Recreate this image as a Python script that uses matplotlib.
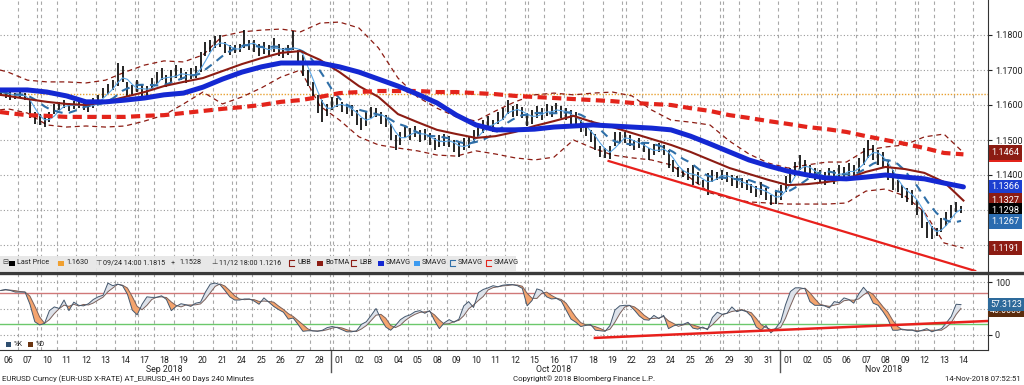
import numpy as np
import pandas as pd
import matplotlib
matplotlib.use("Agg")
import matplotlib.pyplot as plt
from matplotlib.patches import Rectangle
from matplotlib.lines import Line2D

plt.rcParams['font.family'] = ['Roboto', 'DejaVu Sans']

W, H = 1024, 385

# ---- data ----
day_labels = ["06", "07", "10", "11", "12", "13", "14", "17", "18", "19", "20", "21", "24", "25", "26", "27", "28",
              "01", "02", "03", "04", "05", "08", "09", "10", "11", "12", "15", "16", "17", "18", "19",
              "22", "23", "24", "25", "26", "29", "30", "31",
              "01", "02", "05", "06", "07", "08", "09", "12", "13", "14"]
fridays = [1, 6, 11, 16, 21, 26, 31, 36, 41, 46]   # day index followed by a weekend
month_names = ["Sep 2018", "Oct 2018", "Nov 2018"]
month_first_day = [0, 17, 40]

# EUR/USD 4H bars, high / low (4 per day, last day 2)
bar_high = [
    1.1649, 1.1643, 1.1637, 1.1634,  1.1643, 1.1634, 1.1614, 1.1580,  1.1574, 1.1566, 1.1580, 1.1603,
    1.1609, 1.1614, 1.1606, 1.1611,  1.1614, 1.1609, 1.1603, 1.1620,  1.1629, 1.1649, 1.1660, 1.1671,
    1.1720, 1.1711, 1.1666, 1.1657,  1.1671, 1.1660, 1.1654, 1.1677,  1.1694, 1.1706, 1.1686, 1.1700,
    1.1714, 1.1706, 1.1694, 1.1706,  1.1711, 1.1751, 1.1780, 1.1786,  1.1797, 1.1800, 1.1780, 1.1771,
    1.1771, 1.1774, 1.1815, 1.1786,  1.1786, 1.1774, 1.1780, 1.1771,  1.1791, 1.1774, 1.1763, 1.1771,
    1.1811, 1.1757, 1.1743, 1.1700,  1.1666, 1.1629, 1.1614, 1.1603,  1.1623, 1.1620, 1.1609, 1.1603,
    1.1600, 1.1586, 1.1563, 1.1580,  1.1594, 1.1591, 1.1580, 1.1571,  1.1546, 1.1514, 1.1523, 1.1540,
    1.1534, 1.1540, 1.1529, 1.1531,  1.1520, 1.1506, 1.1514, 1.1517,  1.1511, 1.1500, 1.1494, 1.1506,
    1.1511, 1.1529, 1.1543, 1.1557,  1.1569, 1.1557, 1.1580, 1.1591,  1.1614, 1.1597, 1.1603, 1.1594,
    1.1577, 1.1586, 1.1597, 1.1591,  1.1603, 1.1597, 1.1606, 1.1597,  1.1591, 1.1586, 1.1580, 1.1557,
    1.1543, 1.1529, 1.1517, 1.1483,  1.1477, 1.1483, 1.1523, 1.1523,  1.1523, 1.1514, 1.1500, 1.1506,
    1.1491, 1.1477, 1.1489, 1.1491,  1.1486, 1.1471, 1.1443, 1.1423,  1.1414, 1.1420, 1.1429, 1.1409,
    1.1386, 1.1406, 1.1414, 1.1409,  1.1414, 1.1409, 1.1400, 1.1397,  1.1391, 1.1386, 1.1374, 1.1369,
    1.1380, 1.1363, 1.1343, 1.1357,  1.1371, 1.1397, 1.1420, 1.1437,  1.1457, 1.1443, 1.1429, 1.1420,
    1.1414, 1.1409, 1.1420, 1.1414,  1.1429, 1.1423, 1.1434, 1.1429,  1.1449, 1.1477, 1.1500, 1.1486,
    1.1471, 1.1466, 1.1443, 1.1414,  1.1386, 1.1371, 1.1363, 1.1357,  1.1329, 1.1300, 1.1266, 1.1254,
    1.1249, 1.1277, 1.1294, 1.1314,  1.1323, 1.1311]
bar_low = [
    1.1626, 1.1620, 1.1614, 1.1617,  1.1620, 1.1614, 1.1563, 1.1546,  1.1543, 1.1537, 1.1551, 1.1574,
    1.1586, 1.1591, 1.1583, 1.1589,  1.1591, 1.1586, 1.1580, 1.1591,  1.1603, 1.1620, 1.1631, 1.1643,
    1.1654, 1.1666, 1.1623, 1.1629,  1.1637, 1.1626, 1.1623, 1.1643,  1.1660, 1.1671, 1.1651, 1.1666,
    1.1677, 1.1671, 1.1663, 1.1674,  1.1677, 1.1694, 1.1740, 1.1751,  1.1763, 1.1766, 1.1749, 1.1743,
    1.1749, 1.1751, 1.1763, 1.1757,  1.1751, 1.1740, 1.1746, 1.1737,  1.1751, 1.1740, 1.1734, 1.1743,
    1.1757, 1.1723, 1.1683, 1.1654,  1.1614, 1.1577, 1.1551, 1.1569,  1.1586, 1.1594, 1.1580, 1.1574,
    1.1569, 1.1543, 1.1529, 1.1540,  1.1563, 1.1566, 1.1546, 1.1537,  1.1500, 1.1471, 1.1486, 1.1506,
    1.1500, 1.1509, 1.1494, 1.1500,  1.1486, 1.1471, 1.1480, 1.1483,  1.1480, 1.1466, 1.1451, 1.1471,
    1.1477, 1.1494, 1.1506, 1.1520,  1.1534, 1.1523, 1.1546, 1.1557,  1.1574, 1.1566, 1.1569, 1.1563,
    1.1540, 1.1546, 1.1563, 1.1557,  1.1569, 1.1566, 1.1574, 1.1563,  1.1557, 1.1546, 1.1537, 1.1523,
    1.1511, 1.1494, 1.1471, 1.1451,  1.1449, 1.1446, 1.1483, 1.1491,  1.1491, 1.1483, 1.1471, 1.1477,
    1.1466, 1.1443, 1.1457, 1.1466,  1.1457, 1.1420, 1.1409, 1.1394,  1.1394, 1.1386, 1.1371, 1.1374,
    1.1366, 1.1343, 1.1380, 1.1386,  1.1386, 1.1380, 1.1369, 1.1363,  1.1363, 1.1357, 1.1349, 1.1337,
    1.1343, 1.1329, 1.1314, 1.1317,  1.1329, 1.1351, 1.1377, 1.1397,  1.1414, 1.1400, 1.1391, 1.1386,
    1.1380, 1.1371, 1.1386, 1.1374,  1.1391, 1.1386, 1.1397, 1.1391,  1.1409, 1.1429, 1.1449, 1.1443,
    1.1429, 1.1420, 1.1386, 1.1357,  1.1351, 1.1334, 1.1323, 1.1314,  1.1286, 1.1249, 1.1220, 1.1216,
    1.1226, 1.1237, 1.1254, 1.1277,  1.1294, 1.1291]

# studies read once per day (first value = left edge of the chart)
sma_blue = [1.1643,
            1.1643, 1.1643, 1.1637, 1.1626, 1.1609, 1.1609, 1.1614, 1.1620, 1.1629, 1.1634,
            1.1651, 1.1674, 1.1694, 1.1709, 1.1720, 1.1720, 1.1720, 1.1709, 1.1694, 1.1674,
            1.1654, 1.1631, 1.1606, 1.1571, 1.1543, 1.1529, 1.1529, 1.1531, 1.1537, 1.1540,
            1.1543, 1.1540, 1.1537, 1.1534, 1.1529, 1.1511, 1.1489, 1.1466, 1.1443, 1.1426,
            1.1411, 1.1400, 1.1391, 1.1389, 1.1394, 1.1400, 1.1394, 1.1389, 1.1377, 1.1366]
sma_red = [1.1580,
           1.1577, 1.1571, 1.1569, 1.1566, 1.1566, 1.1566, 1.1566, 1.1569, 1.1571, 1.1577,
           1.1583, 1.1589, 1.1594, 1.1600, 1.1609, 1.1614, 1.1623, 1.1634, 1.1637, 1.1640,
           1.1640, 1.1640, 1.1637, 1.1637, 1.1634, 1.1631, 1.1626, 1.1623, 1.1620, 1.1617,
           1.1614, 1.1611, 1.1606, 1.1603, 1.1600, 1.1591, 1.1583, 1.1571, 1.1563, 1.1554,
           1.1546, 1.1537, 1.1531, 1.1523, 1.1511, 1.1500, 1.1489, 1.1477, 1.1463, 1.1459]
bb_mid = [1.1629,
          1.1626, 1.1617, 1.1609, 1.1603, 1.1600, 1.1609, 1.1623, 1.1637, 1.1654, 1.1666,
          1.1677, 1.1697, 1.1717, 1.1734, 1.1749, 1.1754, 1.1729, 1.1694, 1.1654, 1.1623,
          1.1574, 1.1551, 1.1529, 1.1517, 1.1506, 1.1511, 1.1523, 1.1540, 1.1554, 1.1569,
          1.1551, 1.1537, 1.1520, 1.1503, 1.1486, 1.1466, 1.1443, 1.1420, 1.1403, 1.1386,
          1.1371, 1.1374, 1.1380, 1.1389, 1.1409, 1.1423, 1.1417, 1.1406, 1.1380, 1.1327]
bb_up = [1.1700,
         1.1694, 1.1671, 1.1666, 1.1666, 1.1663, 1.1671, 1.1694, 1.1714, 1.1726, 1.1723,
         1.1743, 1.1797, 1.1809, 1.1814, 1.1817, 1.1809, 1.1834, 1.1837, 1.1820, 1.1763,
         1.1677, 1.1623, 1.1591, 1.1566, 1.1554, 1.1583, 1.1609, 1.1629, 1.1634, 1.1629,
         1.1634, 1.1637, 1.1626, 1.1586, 1.1557, 1.1551, 1.1543, 1.1497, 1.1460, 1.1434,
         1.1420, 1.1429, 1.1437, 1.1437, 1.1471, 1.1480, 1.1486, 1.1509, 1.1517, 1.1464]
bb_low = [1.1586,
          1.1589, 1.1577, 1.1543, 1.1537, 1.1540, 1.1537, 1.1540, 1.1554, 1.1571, 1.1603,
          1.1637, 1.1603, 1.1623, 1.1649, 1.1680, 1.1700, 1.1597, 1.1557, 1.1509, 1.1486,
          1.1477, 1.1469, 1.1457, 1.1454, 1.1469, 1.1460, 1.1449, 1.1443, 1.1451, 1.1500,
          1.1477, 1.1457, 1.1449, 1.1443, 1.1429, 1.1391, 1.1349, 1.1334, 1.1323, 1.1320,
          1.1317, 1.1317, 1.1317, 1.1320, 1.1354, 1.1360, 1.1340, 1.1294, 1.1206, 1.1191]

# stochastic %K, one value per bar
stoch_k = [84, 86, 84, 81, 81, 81, 58, 25, 19, 22, 46, 53, 50, 66, 46, 62, 56, 55, 59, 67,
           72, 75, 98, 93, 96, 93, 77, 47, 38, 58, 72, 71, 71, 74, 67, 46, 54, 59, 57, 54,
           60, 62, 81, 96, 98, 95, 84, 72, 66, 66, 68, 68, 64, 58, 70, 62, 54, 48, 43, 30,
           32, 20, 7, 8, 8, 7, 9, 14, 16, 14, 10, 6, 6, 8, 20, 25, 37, 50, 30, 15,
           9, 18, 29, 35, 38, 44, 46, 41, 46, 27, 12, 23, 29, 24, 30, 55, 63, 52, 80, 86,
           89, 93, 91, 94, 95, 95, 93, 88, 55, 65, 87, 84, 72, 68, 69, 64, 47, 30, 24, 16,
           18, 20, 9, 8, 7, 18, 47, 55, 56, 56, 47, 36, 29, 28, 37, 31, 37, 12, 17, 20,
           20, 24, 13, 11, 15, 10, 33, 43, 39, 41, 53, 44, 47, 44, 35, 15, 9, 18, 4, 13,
           25, 57, 82, 89, 89, 87, 63, 56, 56, 55, 51, 63, 61, 70, 67, 60, 77, 90, 79, 60,
           56, 44, 30, 9, 9, 11, 9, 9, 6, 9, 12, 6, 9, 12, 23, 35, 58, 57.3]

# hand drawn trend lines (day index, value)
trend_price_x = [30.8, 49.6]
trend_price_y = [1.1440, 1.1126]
trend_stoch_x = [30.1, 50.3]
trend_stoch_y = [-5.5, 26.5]
level_line = 1.1630

price_tags = [1.1459, 1.1464, 1.1366, 1.1327, 1.1298, 1.1267, 1.1191]
price_tag_colors = ["#e3241b", "#8c1c13", "#1d3fd0", "#8c1c13", "#000000", "#2b6cb0", "#8c1c13"]
stoch_tags = [46.0605, 57.3123]
stoch_tag_colors = ["#5b2c0e", "#2d6a9b"]


def fxy(x, y):
    # pixel position -> figure fraction
    return x / W, 1 - y / H


# ---- derived series ----
n_bars = len(bar_high)
bar_x = (np.arange(n_bars) - 1.5) / 4.0
line_x = np.r_[-0.41, np.arange(len(day_labels))]
mid = (pd.Series(bar_high) + pd.Series(bar_low)) / 2
sma_fast = mid.rolling(3, min_periods=1).mean()
sma_dash = mid.rolling(8, min_periods=1).mean()
k = np.array(stoch_k, dtype=float)
d = pd.Series(k).rolling(3, min_periods=1).mean().values

fig = plt.figure(figsize=(W / 100, H / 100), dpi=100)
ax = fig.add_axes([0, 1 - 271 / H, 988 / W, 271 / H])
ax2 = fig.add_axes([0, 1 - 350 / H, 988 / W, 76 / H])

x_lo, x_hi = -0.41, 50.26
for a in (ax, ax2):
    a.set_xlim(x_lo, x_hi)
    a.set_facecolor("white")
    for i in range(-1, len(day_labels)):
        a.axvline(i + 0.5, color="#a8a8a8", lw=0.8, ls=(0, (3, 3)), zorder=0)
    for i in fridays:
        a.axvline(i + 0.68, color="#a8a8a8", lw=0.8, ls=(0, (3, 3)), zorder=0)

# ---- price panel ----
ax.set_ylim(1.19 - 271 / 3500, 1.19)
yt = [1.12, 1.13, 1.14, 1.15, 1.16, 1.17, 1.18]
for v in yt:
    ax.axhline(v, color="#9a9a9a", lw=0.8, ls=(0, (1, 2)), zorder=0)
ax.axhline(level_line, color="#e8a030", lw=1.0, ls=(0, (1, 1.2)), zorder=1)

ax.plot(line_x, bb_up, color="#8c1c13", lw=0.9, ls=(0, (4, 3)), zorder=2)
ax.plot(line_x, bb_low, color="#8c1c13", lw=0.9, ls=(0, (4, 3)), zorder=2)
ax.vlines(bar_x, bar_low, bar_high, color="black", lw=1.2, zorder=3)
ax.plot(bar_x, sma_fast, color="#5aa6e6", lw=0.8, zorder=4)
ax.plot(bar_x, sma_dash, color="#2f6fa8", lw=1.5, ls=(0, (4, 3)), zorder=4)
ax.plot(line_x, bb_mid, color="#8c1c13", lw=1.5, zorder=4)
ax.plot(line_x, sma_red, color="#e3241b", lw=3.0, ls=(0, (2.2, 1.3)), zorder=5)
ax.plot(line_x, sma_blue, color="#1428d2", lw=3.6, zorder=5, solid_capstyle="round")
ax.plot(trend_price_x, trend_price_y, color="#e8201c", lw=1.6, zorder=6)

# the 1.1300 / 1.1200 labels sit behind the value tags, as in the original
ax.yaxis.tick_right()
ax.set_yticks(yt)
ax.set_yticklabels(["", ""] + [f"{v:.4f}" for v in yt[2:]])
ax.tick_params(axis="y", labelsize=6.5, length=3, width=0.8, pad=2, colors="#222222")
ax.set_xticks([])
for s in ("top", "left", "bottom"):
    ax.spines[s].set_visible(False)
ax.spines["right"].set_color("#333333")
ax.spines["right"].set_linewidth(0.8)

ax.text(528, 50, "EUR / USD 4H", transform=None, color="#e8141c", fontsize=14.5,
        family=["Liberation Sans", "DejaVu Sans"], ha="center", va="center")

tf = ax.get_yaxis_transform()
for v, c in zip(price_tags, price_tag_colors):
    ax.text(1.0035, v, f"{v:.4f}", transform=tf, color="white", fontsize=6.6,
            ha="left", va="center", clip_on=False, zorder=10,
            bbox=dict(boxstyle="square,pad=0.3", fc=c, ec="none"))

# ---- stochastic panel ----
ax2.set_ylim((335 - 350) / 0.53, (335 - 274) / 0.53)
for v in (0, 50, 100):
    ax2.axhline(v, color="#9a9a9a", lw=0.8, ls=(0, (1, 2)), zorder=0)
ax2.axhline(80, color="#d07878", lw=1.0, zorder=1)
ax2.axhline(20, color="#6cc86c", lw=1.0, zorder=1)
ax2.fill_between(bar_x, k, d, where=k >= d, interpolate=True, color="#dde2ea", lw=0, zorder=2)
ax2.fill_between(bar_x, k, d, where=k < d, interpolate=True, color="#f4a46e", lw=0, zorder=2)
ax2.plot(bar_x, d, color="#7a605a", lw=0.7, zorder=3)
ax2.plot(bar_x, k, color="#44586e", lw=0.7, zorder=3)
ax2.plot(trend_stoch_x, trend_stoch_y, color="#e8201c", lw=1.8, zorder=4)

ax2.yaxis.tick_right()
ax2.set_yticks([0, 50, 100])
ax2.set_yticklabels(["0", "", "100"])
ax2.tick_params(axis="y", labelsize=6.5, length=3, width=0.8, pad=2, colors="#222222")
ax2.set_xticks(range(len(day_labels)))
ax2.set_xticklabels(day_labels)
ax2.tick_params(axis="x", labelsize=6.3, length=0, pad=4, colors="#222222")
for s in ("top", "left"):
    ax2.spines[s].set_visible(False)
for s in ("right", "bottom"):
    ax2.spines[s].set_color("#333333")
    ax2.spines[s].set_linewidth(0.8)

tf2 = ax2.get_yaxis_transform()
for v, c in zip(stoch_tags, stoch_tag_colors):
    ax2.text(1.002, v, f"{v:.4f}", transform=tf2, color="white", fontsize=6.3,
             ha="left", va="center", clip_on=False, zorder=10,
             bbox=dict(boxstyle="square,pad=0.25", fc=c, ec="none"))

# month labels and separators under the axis
bx = ax2.get_xaxis_transform()
month_ends = month_first_day[1:] + [x_hi + 0.5]
for name, a0, a1 in zip(month_names, month_first_day, month_ends):
    ax2.text((a0 - 0.5 + a1 - 0.5) / 2, -0.25, name, transform=bx, fontsize=6.3,
             color="#222222", ha="center", va="center")
for a0 in month_first_day[1:]:
    ax2.plot([a0 - 0.42, a0 - 0.42], [0, -0.29], transform=bx, color="#555555",
             lw=1.0, clip_on=False)

# thick separator between panels
fig.add_artist(Line2D([0, 1], [fxy(0, 272.5)[1]] * 2, transform=fig.transFigure,
                      color="#3a3a3a", lw=2.4))

# legend strip of the price panel
fig.add_artist(Rectangle(fxy(0, 270.5), 516 / W, 14.5 / H, transform=fig.transFigure,
                         fc="#e7e7e7", ec="none", alpha=0.92, zorder=5))
ly = 263
fig.text(*fxy(2, ly), "⊟", fontsize=5.2, va="center", ha="left", color="#444444", zorder=6)
legend_items = [
    (9, "sq", "black", "Last Price"),
    (58, "sq", "#f0a030", "1.1630"),
    (95, "sym", "⊤", "09/24 14:00 1.1815"),
    (171, "sym", "+", "1.1528"),
    (211, "sym", "⊥", "11/12 18:00 1.1216"),
    (289, "brk", "#8c1c13", "UBB"),
    (317, "sq", "#8c1c13", "BoTMA"),
    (351, "brk", "#8c1c13", "LBB"),
    (378, "sq", "#1428d2", "SMAVG"),
    (414, "sq", "#3d9bf0", "SMAVG"),
    (450, "brk", "#2f6fa8", "SMAVG"),
    (486, "brk", "#e3241b", "SMAVG"),
]
for x0, kind, c, label in legend_items:
    if kind == "sq":
        fig.add_artist(Rectangle(fxy(x0, ly + 3), 5.5 / W, 5.5 / H, transform=fig.transFigure,
                                 fc=c, ec="none", zorder=6))
    elif kind == "sym":
        fig.text(*fxy(x0, ly), c, fontsize=5.2, va="center", ha="left", color="#444444", zorder=6)
    else:
        xs = [fxy(x0 + 5, 0)[0], fxy(x0, 0)[0], fxy(x0, 0)[0], fxy(x0 + 5, 0)[0]]
        ys = [fxy(0, ly - 3)[1], fxy(0, ly - 3)[1], fxy(0, ly + 3)[1], fxy(0, ly + 3)[1]]
        fig.add_artist(Line2D(xs, ys, transform=fig.transFigure, color=c, lw=0.8, zorder=6))
    fig.text(*fxy(x0 + 8, ly), label, fontsize=5.2, va="center", ha="left", color="#222222", zorder=6)

# legend of the stochastic panel
for x0, c, label in [(6, "#2f4f70", "%K"), (28, "#6b3410", "%D")]:
    fig.add_artist(Rectangle(fxy(x0, 347), 5 / W, 5 / H, transform=fig.transFigure,
                             fc=c, ec="none", zorder=6))
    fig.text(*fxy(x0 + 8, 344.5), label, fontsize=4.8, va="center", ha="left", color="#222222")

# footer
fig.text(*fxy(2, 379), "EURUSD Curncy (EUR-USD X-RATE) AT_EURUSD_4H 60 Days 240 Minutes",
         fontsize=5.6, va="center", ha="left", color="#222222")
fig.text(*fxy(513, 379), "Copyright\u00a9 2018 Bloomberg Finance L.P.",
         fontsize=5.6, va="center", ha="left", color="#222222")
fig.text(*fxy(1021, 379), "14-Nov-2018 07:52:51",
         fontsize=5.6, va="center", ha="right", color="#222222")

fig.savefig("out.png", dpi=100, facecolor="white")
print("Saved: out.png")
